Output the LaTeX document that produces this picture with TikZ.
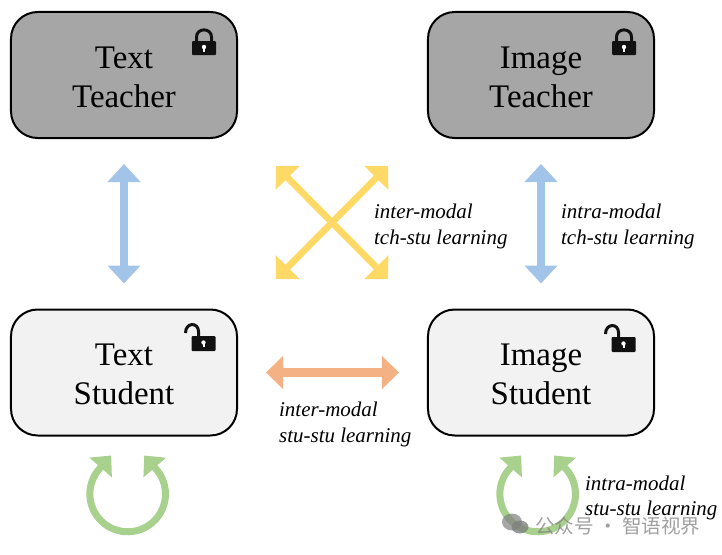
\documentclass[tikz,border=0pt]{standalone}
\usepackage{fontspec}
\setmainfont{Liberation Serif}
\newfontfamily\cjkfont{Noto Sans CJK SC}
\usetikzlibrary{arrows.meta,positioning,calc}

\definecolor{tchgray}{HTML}{A6A6A6}
\definecolor{stugray}{HTML}{F2F2F2}
\definecolor{tsblue}{HTML}{A2C4E8}
\definecolor{crossyellow}{HTML}{FFD966}
\definecolor{ssorange}{HTML}{F4B183}
\definecolor{loopgreen}{HTML}{A9D18E}
\definecolor{lockblack}{HTML}{111111}

\newcommand{\boxstrut}{\rule{0pt}{22pt}}

\tikzset{
    modelbox/.style={draw=black, line width=0.06cm, rounded corners=0.8cm, minimum width=6.78cm, minimum height=3.78cm, align=center, font=\fontsize{28.1}{33.2}\selectfont},
    tchbox/.style={modelbox, fill=tchgray},
    stubox/.style={modelbox, fill=stugray},
    tslabel/.style={anchor=west, align=left, font=\fontsize{17.9}{22}\selectfont\itshape},
    bluearrow/.style={draw=tsblue, line width=0.24cm, {Triangle[length=0.54cm,width=0.96cm]}-{Triangle[length=0.54cm,width=0.96cm]}, shorten <=0.75cm, shorten >=0.75cm},
    orangearrow/.style={draw=ssorange, line width=0.26cm, {Triangle[length=0.51cm,width=0.96cm]}-{Triangle[length=0.51cm,width=0.96cm]}, shorten <=0.84cm, shorten >=0.84cm},
    yellowarrow/.style={draw=crossyellow, line width=0.2cm, {Triangle[length=0.5cm,width=0.99cm]}-{Triangle[length=0.5cm,width=0.99cm]}},
    looparrow/.style={draw=loopgreen, line width=0.21cm, {Triangle[length=0.48cm,width=0.87cm]}-{Triangle[length=0.48cm,width=0.87cm]}},
    closedlock/.pic={
        \fill[lockblack, rounded corners=0.03cm] (-12,-7) rectangle (12,7);
        \draw[lockblack, line width=0.09cm] (-7.5,-7) -- (-7.5,-11) .. controls (-7.5,-20.5) and (7.5,-20.5) .. (7.5,-11) -- (7.5,-7);
        \fill[white] (0,-1) circle (2.2);
        \fill[white] (-1,-1) rectangle (1,3.5);
    },
    openlock/.pic={
        \fill[lockblack, rounded corners=0.03cm] (-12,-7.5) rectangle (12,7.5);
        \draw[lockblack, line width=0.09cm] (-18,-10.5) .. controls (-18,-21.5) and (-5,-21.5) .. (-5,-12) -- (-5,-7.5);
        \fill[white] (0,-1) circle (2.2);
        \fill[white] (-1,-1) rectangle (1,3.5);
    },
    selfloop/.pic={
        \coordinate (-lefttip) at (-16.5,-38.5);
        \coordinate (-righttip) at (16.5,-38.5);
        \draw[looparrow] (-lefttip) -- (-27.5,-26) arc[start angle=-136.6, end angle=-403.4, radius=37.8] -- (-righttip);
    }
}

\begin{document}
\begin{tikzpicture}[x=0.03cm, y=-0.03cm]
    \useasboundingbox (0,0) rectangle (722,554);

    % Models
    \node[tchbox] (texttch) at (124,75) {\boxstrut Text\\Teacher};
    \node[tchbox] (imgtch) at (541,75) {\boxstrut Image\\Teacher};
    \node[stubox] (textstu) at (124,372.5) {\boxstrut Text\\Student};
    \node[stubox] (imgstu) at (541,372.5) {\boxstrut Image\\Student};

    % Locks
    \pic at (204,48) {closedlock};
    \pic at (624,48) {closedlock};
    \pic at (203.5,343.5) {openlock};
    \pic at (623.5,344.5) {openlock};

    % Teacher-student arrows
    \draw[bluearrow] (texttch) -- (textstu);
    \draw[bluearrow] (imgtch) -- (imgstu);
    \draw[orangearrow] (textstu) -- (imgstu);

    % Crossing arrows
    \coordinate (crossnw) at (276,166);
    \coordinate (crossne) at (388,166);
    \coordinate (crosssw) at (276,279);
    \coordinate (crossse) at (388,279);
    \draw[yellowarrow] (crossnw) -- (crossse);
    \draw[yellowarrow] (crossne) -- (crosssw);

    % Self loops
    \pic (textloop) at (127.7,494) {selfloop};
    \pic (imgloop) at (537.7,494) {selfloop};

    % Labels
    \node[tslabel] (crosslabel) at (370,226.5) {inter-modal\\tch-stu learning};
    \node[tslabel] (intralabel) at (557,226.5) {intra-modal\\tch-stu learning};
    \node[tslabel] (sslabel) at (275,424.5) {inter-modal\\stu-stu learning};
    \node[tslabel] (looplabel) at (581,498) {intra-modal\\stu-stu learning};

    % Watermark
    \fill[gray, opacity=0.7] (512,522) ellipse (10 and 8.5);
    \fill[gray, opacity=0.8] (520,527) ellipse (8.5 and 6.5);
    \node[anchor=west, inner sep=0pt, text=gray, opacity=0.75, font=\cjkfont\fontsize{16.7}{17}\selectfont] (watermark) at (535,526) {公众号 · 智语视界};
\end{tikzpicture}
\end{document}
